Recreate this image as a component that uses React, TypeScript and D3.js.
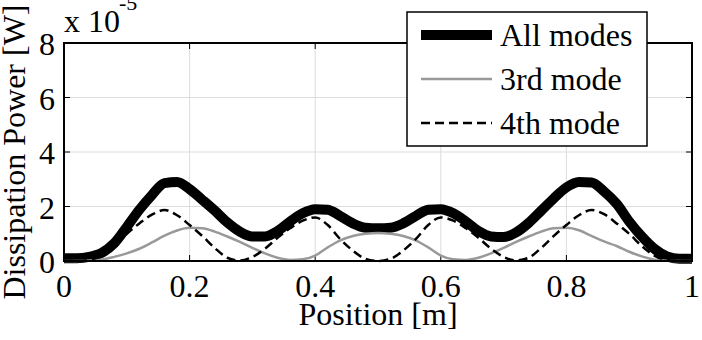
import React from "react";
import * as d3 from "d3";

const positions = [
  0, 0.02, 0.04, 0.06, 0.08, 0.1, 0.12, 0.14, 0.16, 0.18, 0.2, 0.22, 0.24, 0.26, 0.28, 0.3, 0.32, 0.34, 0.36,
  0.38, 0.4, 0.42, 0.44, 0.46, 0.48, 0.5, 0.52, 0.54, 0.56, 0.58, 0.6, 0.62, 0.64, 0.66, 0.68, 0.7, 0.72, 0.74,
  0.76, 0.78, 0.8, 0.82, 0.84, 0.86, 0.88, 0.9, 0.92, 0.94, 0.96, 0.98, 1.0,
];

// values in units of 1e-5 W
const allModes = [
  0.1, 0.1, 0.15, 0.3, 0.65, 1.25, 1.88, 2.42, 2.86, 2.9, 2.64, 2.25, 1.85, 1.42, 1.08, 0.9, 0.9, 1.1, 1.45,
  1.75, 1.9, 1.88, 1.65, 1.38, 1.22, 1.2, 1.22, 1.38, 1.65, 1.88, 1.9, 1.75, 1.45, 1.1, 0.9, 0.88, 1.05, 1.4,
  1.85, 2.3, 2.7, 2.9, 2.88, 2.55, 2.1, 1.45, 0.9, 0.45, 0.17, 0.08, 0.08,
];

const mode3 = [
  0, 0, 0.02, 0.05, 0.15, 0.28, 0.45, 0.68, 0.93, 1.12, 1.22, 1.2, 1.08, 0.9, 0.7, 0.48, 0.28, 0.12, 0.04,
  0.06, 0.2, 0.5, 0.76, 0.92, 1.0, 1.03, 1.0, 0.92, 0.76, 0.5, 0.2, 0.06, 0.04, 0.12, 0.28, 0.48, 0.7, 0.9,
  1.08, 1.2, 1.22, 1.13, 0.92, 0.72, 0.55, 0.34, 0.17, 0.05, 0.01, 0, 0,
];

const mode4 = [
  0, 0, 0.04, 0.2, 0.55, 1.0, 1.38, 1.7, 1.87, 1.68, 1.32, 0.92, 0.48, 0.12, 0.02, 0.15, 0.45, 0.85, 1.2,
  1.48, 1.6, 1.32, 0.8, 0.38, 0.08, 0, 0.08, 0.38, 0.8, 1.32, 1.6, 1.48, 1.2, 0.85, 0.45, 0.15, 0.02, 0.12,
  0.48, 0.92, 1.32, 1.68, 1.87, 1.72, 1.38, 1.0, 0.55, 0.2, 0.04, 0, 0,
];

const xTicks = [0, 0.2, 0.4, 0.6, 0.8, 1];
const xTickLabels = ["0", "0.2", "0.4", "0.6", "0.8", "1"];
const yTicks = [0, 2, 4, 6, 8];
const yTickLabels = ["0", "2", "4", "6", "8"];
const legendLabels = ["All modes", "3rd mode", "4th mode"];
const xLabel = "Position [m]";
const yLabel = "Dissipation Power [W]";

const W = 702;
const H = 340;
const FF = "Liberation Serif";

export default function App() {
  const x = d3.scaleLinear().domain([0, 1]).range([64, 692]);
  const y = d3.scaleLinear().domain([0, 8]).range([261, 43]);

  const line = (vals: number[]) =>
    d3
      .line<number>()
      .x((_, i) => x(positions[i]))
      .y((d) => y(d))
      .curve(d3.curveMonotoneX)(vals) || "";

  const [x0, x1] = x.range();
  const [yb, yt] = y.range();

  const series = [
    { vals: allModes, stroke: "#000", width: 10, dash: undefined as string | undefined },
    { vals: mode3, stroke: "#999", width: 2.5, dash: undefined },
    { vals: mode4, stroke: "#000", width: 2.5, dash: "9,5" },
  ];

  const lg = { x: 407, y: 12, w: 240, h: 134 };
  const rowY = [35, 79, 123];

  const T = (props: any) => <text fontFamily={FF} style={{ fontFamily: FF }} fill="#000" {...props} />;

  return (
    <svg width={W} height={H} style={{ position: "absolute", left: 0, top: 0, background: "#fff" }}>
      <rect x={0} y={0} width={W} height={H} fill="#fff" />
      {/* grid */}
      {xTicks.slice(1, -1).map((t) => (
        <line key={"gx" + t} x1={x(t)} x2={x(t)} y1={yb} y2={yt} stroke="#dcdcdc" strokeWidth={1} />
      ))}
      {yTicks.slice(1, -1).map((t) => (
        <line key={"gy" + t} x1={x0} x2={x1} y1={y(t)} y2={y(t)} stroke="#dcdcdc" strokeWidth={1} />
      ))}
      {/* ticks */}
      {xTicks.map((t) => (
        <g key={"tx" + t}>
          <line x1={x(t)} x2={x(t)} y1={yb} y2={yb - 6} stroke="#000" strokeWidth={1} />
          <line x1={x(t)} x2={x(t)} y1={yt} y2={yt + 6} stroke="#000" strokeWidth={1} />
        </g>
      ))}
      {yTicks.map((t) => (
        <g key={"ty" + t}>
          <line x1={x0} x2={x0 + 6} y1={y(t)} y2={y(t)} stroke="#000" strokeWidth={1} />
          <line x1={x1} x2={x1 - 6} y1={y(t)} y2={y(t)} stroke="#000" strokeWidth={1} />
        </g>
      ))}
      {/* series */}
      {series.map((s, i) => (
        <path
          key={i}
          d={line(s.vals)}
          fill="none"
          stroke={s.stroke}
          strokeWidth={s.width}
          strokeDasharray={s.dash}
          strokeLinejoin="round"
        />
      ))}
      {/* frame */}
      <rect x={x0} y={yt} width={x1 - x0} height={yb - yt} fill="none" stroke="#000" strokeWidth={2} />
      {/* tick labels */}
      {xTicks.map((t, i) => (
        <T key={"lx" + t} x={x(t)} y={297} fontSize={32} textAnchor="middle">
          {xTickLabels[i]}
        </T>
      ))}
      {yTicks.map((t, i) => (
        <T key={"ly" + t} x={55} y={y(t) + 12} fontSize={32} textAnchor="end">
          {yTickLabels[i]}
        </T>
      ))}
      {/* exponent */}
      <T x={64} y={32} fontSize={32}>
        x 10
      </T>
      <T x={119} y={10} fontSize={22}>
        -5
      </T>
      {/* axis labels */}
      <T x={(x0 + x1) / 2} y={325} fontSize={32} textAnchor="middle">
        {xLabel}
      </T>
      <T transform={`translate(25,${(yb + yt) / 2}) rotate(-90)`} fontSize={32} textAnchor="middle">
        {yLabel}
      </T>
      {/* legend */}
      <rect x={lg.x} y={lg.y} width={lg.w} height={lg.h} fill="#fff" stroke="#000" strokeWidth={1.5} />
      {series.map((s, i) => (
        <g key={"lg" + i}>
          <line
            x1={421}
            x2={492}
            y1={rowY[i]}
            y2={rowY[i]}
            stroke={s.stroke}
            strokeWidth={s.width}
            strokeDasharray={s.dash}
          />
          <T x={500} y={rowY[i] + 11} fontSize={32}>
            {legendLabels[i]}
          </T>
        </g>
      ))}
    </svg>
  );
}
